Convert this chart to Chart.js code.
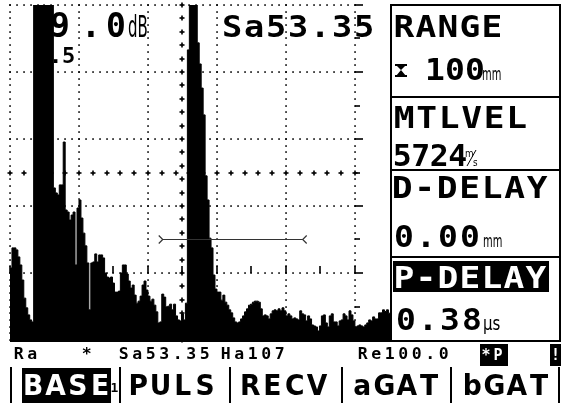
<!DOCTYPE html>
<html><head><meta charset="utf-8">
<script src="https://cdn.jsdelivr.net/npm/chart.js@4.4.1/dist/chart.umd.min.js"></script>
<style>html,body{margin:0;padding:0;background:#fff;overflow:hidden}canvas{display:block}</style>
</head><body>
<canvas id="c" width="561" height="403" style="width:561px;height:403px"></canvas>
<script>
// ---------- DATA ----------
// A-scan amplitude, % of full screen height, one value per sample
const amplitude = [
 21.5,27.5,27.5,26.9,24.8,22.4,17.9,12.5,9.6,7.5,6.0,5.4,
 100,100,100,100,100,100,100,100,100,100,
 45.4,43.9,43.3,46.3,46.3,59.1,38.8,38.2,35.8,37.3,38.2,22.4,39.4,41.8,36.4,31.9,28.1,23.0,9.0,23.0,
 23.3,25.7,23.3,25.4,25.4,24.5,20.0,18.8,18.5,18.8,17.0,14.3,14.3,14.6,20.0,22.4,22.4,19.7,17.6,15.5,
 16.4,13.4,11.0,11.6,13.1,16.4,17.6,14.9,13.1,11.6,12.2,10.4,8.4,5.1,5.4,13.7,12.8,9.9,10.1,10.7,
 9.0,10.7,7.2,6.0,5.7,7.8,6.0,11.0,86.6,100,100,100,100,88.7,82.4,75.2,67.2,49.0,41.8,30.4,
 27.5,19.4,15.2,14.3,14.3,11.9,13.4,11.3,10.4,9.0,8.1,6.6,5.4,5.1,5.4,6.3,7.2,8.4,9.3,10.4,
 10.7,11.3,11.6,11.6,11.3,9.3,7.2,7.5,7.2,6.3,7.8,8.7,9.0,8.7,9.3,8.7,9.6,8.7,7.2,7.8,
 7.2,6.3,6.6,6.3,6.0,8.7,7.8,7.5,5.7,7.2,6.3,4.5,4.2,3.9,2.7,4.2,7.2,7.5,5.1,3.9,
 7.2,7.8,5.4,5.4,4.2,5.7,6.0,7.8,7.2,6.0,8.7,7.5,5.7,3.9,4.2,4.5,4.2,3.9,4.5,5.1,
 6.0,5.7,6.9,6.3,6.3,8.1,8.1,9.0,8.5,9.0,8.0
];
const samplesPerDiv = 35;          // graticule division width in samples
const gridDivs = 5;                // graticule divisions (x and y)
const xMaxSamples = 192.8;         // visible sample window
const gateStart = 77.5, gateEnd = 148.5, gateLevel = 30;   // gate A (samples, %)

const gainText = '59.0', gainUnit = 'dB', refGainText = '0.5';
const readoutText = 'Sa53.35';
const panelLabels = ['RANGE', 'MTLVEL', 'D-DELAY', 'P-DELAY'];
const panelValues = ['100', '5724', '0.00', '0.38'];
const panelUnits  = ['mm', 'm/s', 'mm', 'µs'];
const statusTexts = ['Ra', '*', 'Sa53.35', 'Ha107', 'Re100.0'];
const menuItems = ['BASE', 'PULS', 'RECV', 'aGAT', 'bGAT'];

// ---------- helpers ----------
const MONO = '"DejaVu Sans Mono", "Liberation Mono", monospace';
const SANS = '"DejaVu Sans", "Liberation Sans", sans-serif';
function cells(ctx, str, x, y, adv, font, color, sx) {
  ctx.save();
  ctx.font = font; ctx.fillStyle = color;
  ctx.textAlign = 'center'; ctx.textBaseline = 'alphabetic';
  for (let i = 0; i < str.length; i++) {
    ctx.save();
    ctx.translate(x + i * adv + adv / 2, y);
    ctx.scale(sx || 1, 1);
    ctx.fillText(str[i], 0, 0);
    ctx.restore();
  }
  ctx.restore();
}
function placed(ctx, str, centers, y, font, color, sx) {
  ctx.save();
  ctx.font = font; ctx.fillStyle = color;
  ctx.textAlign = 'center'; ctx.textBaseline = 'alphabetic';
  for (let i = 0; i < str.length; i++) {
    ctx.save();
    ctx.translate(centers[i], y);
    ctx.scale(sx || 1, 1);
    ctx.fillText(str[i], 0, 0);
    ctx.restore();
  }
  ctx.restore();
}
function squeezed(ctx, str, x, y, font, sx, color) {
  ctx.save();
  ctx.font = font; ctx.fillStyle = color || '#000';
  ctx.textAlign = 'left'; ctx.textBaseline = 'alphabetic';
  ctx.translate(x, y); ctx.scale(sx, 1);
  ctx.fillText(str, 0, 0);
  ctx.restore();
}

// ---------- dataset tables ----------
const traceData = amplitude.map((v, i) => ({x: i, y: v}));
traceData.push({x: amplitude.length, y: amplitude[amplitude.length - 1]});
const gateData = [{x: gateStart, y: gateLevel}, {x: gateEnd, y: gateLevel}];

// ---------- plugins ----------
const graticule = {
  id: 'graticule',
  beforeDatasetsDraw(chart) {
    const {ctx, scales: {x, y}} = chart;
    const px = v => Math.round(x.getPixelForValue(v));
    const py = v => Math.round(y.getPixelForValue(v));
    const xEnd = gridDivs * samplesPerDiv;
    ctx.save();
    ctx.fillStyle = '#000';
    const dot = (dx, dy) => ctx.fillRect(dx - 0.75, dy - 0.75, 1.6, 1.6);
    // dotted verticals
    for (let k = 0; k <= gridDivs; k++) {
      const gx = px(k * samplesPerDiv);
      for (let v = 0; v <= 100; v += 2) dot(gx, py(v));
    }
    // dotted horizontals
    for (let k = 1; k <= gridDivs; k++) {
      const gy = py(k * 100 / gridDivs);
      for (let s = 0; s <= xEnd; s += samplesPerDiv / 10) dot(px(s), gy);
    }
    // centre cross with "+" marks
    const plus = (cx, cy) => { ctx.fillRect(cx - 2.5, cy - 0.8, 5, 1.6); ctx.fillRect(cx - 0.8, cy - 2.5, 1.6, 5); };
    const cxp = px(xEnd / 2), cyp = py(50);
    for (let v = 0; v <= 100; v += 4) plus(cxp, py(v));
    for (let s = 0; s <= xEnd; s += samplesPerDiv / 5) plus(px(s), cyp);
    // right-edge ticks
    const rx = px(xEnd);
    for (let v = 0; v <= 100; v += 10) ctx.fillRect(rx, py(v) - 0.8, v % 20 === 0 ? 8 : 5, 1.6);
    // ticks on 20% line
    const qy = py(20);
    for (let s = 0; s <= xEnd; s += samplesPerDiv / 2) ctx.fillRect(px(s) - 0.8, qy - 7, 1.6, 7);
    ctx.restore();

    // readouts behind the trace
    placed(ctx, gainText, [43, 60, 91, 116], 37, 'bold 33px ' + MONO, '#000', 1.0);
    squeezed(ctx, gainUnit, 128, 37, '30px ' + SANS, 0.5);
    cells(ctx, refGainText, 36, 63, 13, 'bold 22px ' + MONO, '#000', 1);
    cells(ctx, readoutText, 221, 37, 22, 'bold 30px ' + MONO, '#000', 1.12);
  },
  afterDatasetsDraw(chart) {
    const {ctx, scales: {x, y}, chartArea} = chart;
    const gx1 = x.getPixelForValue(gateStart), gx2 = x.getPixelForValue(gateEnd);
    const gy = Math.round(y.getPixelForValue(gateLevel)) + 0.5;
    ctx.save();
    ctx.strokeStyle = '#333'; ctx.lineWidth = 1.2;
    ctx.beginPath();
    ctx.moveTo(gx1 - 4, gy - 4); ctx.lineTo(gx1, gy); ctx.lineTo(gx1 - 4, gy + 4);
    ctx.moveTo(gx2 + 4, gy - 4); ctx.lineTo(gx2, gy); ctx.lineTo(gx2 + 4, gy + 4);
    ctx.stroke();
    // baseline
    ctx.fillStyle = '#000';
    ctx.fillRect(chartArea.left, Math.round(y.getPixelForValue(0)), 561 - chartArea.left, 2);
    ctx.restore();
  },
  afterDraw(chart) {
    const {ctx} = chart;
    ctx.save();
    ctx.fillStyle = '#000';
    // right panel frame
    ctx.fillRect(390, 4, 2, 337);
    ctx.fillRect(390, 4, 171, 2);
    ctx.fillRect(559, 4, 2, 337);
    ctx.fillRect(390, 96, 171, 2);
    ctx.fillRect(390, 169, 171, 2);
    ctx.fillRect(390, 256, 171, 2);
    // hourglass icon
    ctx.beginPath();
    ctx.moveTo(396, 65); ctx.lineTo(406, 65); ctx.lineTo(401, 70); ctx.lineTo(406, 76); ctx.lineTo(396, 76); ctx.lineTo(401, 70); ctx.closePath();
    ctx.fill();
    ctx.fillRect(395, 64, 12, 2); ctx.fillRect(395, 75, 12, 2);
    // P-DELAY highlight
    ctx.fillRect(393, 261, 156, 31);
    const lab = 'bold 30px ' + MONO;
    cells(ctx, panelLabels[0], 393, 37, 22, lab, '#000', 1.15);
    cells(ctx, panelLabels[1], 393, 128, 22.5, lab, '#000', 1.15);
    cells(ctx, panelLabels[2], 391, 198, 22.5, lab, '#000', 1.15);
    cells(ctx, panelLabels[3], 393, 288, 22, lab, '#fff', 1.15);
    cells(ctx, panelValues[0], 425, 80, 20, lab, '#000', 1.1);
    cells(ctx, panelValues[1], 393, 166, 18.5, lab, '#000', 1.05);
    cells(ctx, panelValues[2], 393, 247, 22, lab, '#000', 1.1);
    cells(ctx, panelValues[3], 395, 330, 22, lab, '#000', 1.1);
    squeezed(ctx, panelUnits[0], 482, 80, '18px ' + SANS, 0.55);
    squeezed(ctx, 'm', 465, 157, '11px ' + SANS, 0.8);
    squeezed(ctx, 's', 473, 166, '11px ' + SANS, 0.8);
    ctx.beginPath(); ctx.lineWidth = 1; ctx.strokeStyle = '#000';
    ctx.moveTo(467, 166); ctx.lineTo(476, 150); ctx.stroke();
    squeezed(ctx, panelUnits[2], 483, 247, '18px ' + SANS, 0.55);
    squeezed(ctx, panelUnits[3], 483, 330, '20px ' + SANS, 0.75);

    // status line
    const st = 'bold 15px ' + MONO;
    const stX = [12, 80, 117, 219, 356];
    statusTexts.forEach((t, i) => cells(ctx, t, stX[i], 359, 13.5, st, '#000', 1.1));
    ctx.fillRect(480, 344, 28, 22);
    cells(ctx, '*P', 480, 360, 12, st, '#fff', 1);
    ctx.fillRect(550, 344, 11, 22);
    cells(ctx, '!', 550, 360, 11, st, '#fff', 1);

    // menu
    [10, 119, 229, 341, 450, 558].forEach(sx => ctx.fillRect(sx, 367, 2, 36));
    ctx.fillRect(22, 368, 89, 35);
    const mf = 'bold 28px ' + SANS;
    const mX = [22, 127, 239, 351, 461];
    menuItems.forEach((t, i) => cells(ctx, t, mX[i], 395, 22.3, mf, i === 0 ? '#fff' : '#000', 0.95));
    cells(ctx, '1', 110, 392, 9, 'bold 13px ' + MONO, '#000', 1);
    ctx.restore();
  }
};

new Chart(document.getElementById('c'), {
  type: 'line',
  data: {
    datasets: [
      {data: traceData, stepped: true, fill: 'origin', borderColor: '#000', backgroundColor: '#000',
       borderWidth: 1, pointRadius: 0, order: 2},
      {data: gateData, borderColor: '#333', borderWidth: 1.2, pointRadius: 0, fill: false, order: 1}
    ]
  },
  options: {
    responsive: false, animation: false, devicePixelRatio: 1,
    layout: {padding: {left: 10, top: 5, right: 171, bottom: 63}},
    scales: {
      x: {type: 'linear', min: 0, max: xMaxSamples, display: false},
      y: {min: 0, max: 100, display: false}
    },
    plugins: {legend: {display: false}, tooltip: {enabled: false}}
  },
  plugins: [graticule]
});
</script>
</body></html>
